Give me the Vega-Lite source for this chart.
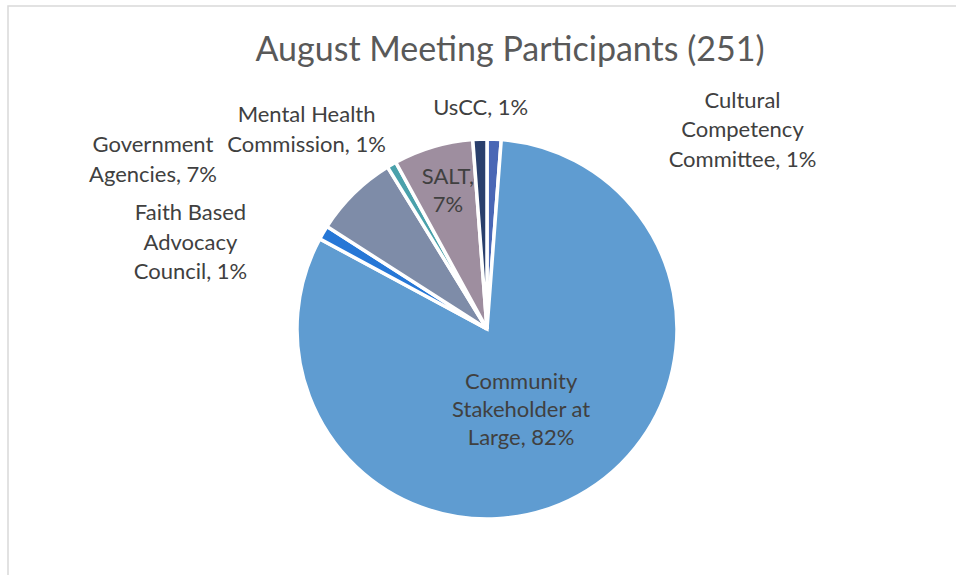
{
  "$schema": "https://vega.github.io/schema/vega-lite/v6.json",
  "autosize": "none",
  "padding": {"left": 8, "top": 6, "right": 0, "bottom": 0},
  "width": 958,
  "height": 646,
  "background": "white",
  "config": {
    "view": {"stroke": null},
    "font": "Lato"
  },
  "title": {
    "text": "August Meeting Participants (251)",
    "orient": "top",
    "anchor": "middle",
    "offset": -63,
    "dx": 23,
    "font": "Lato",
    "fontSize": 34,
    "fontWeight": "normal",
    "color": "#595959"
  },
  "data": {
    "values": [
      {"category": "Cultural Competency Committee", "count": 3, "rank": 1},
      {"category": "Community Stakeholder at Large", "count": 205, "rank": 2},
      {"category": "Faith Based Advocacy Council", "count": 3, "rank": 3},
      {"category": "Government Agencies", "count": 18, "rank": 4},
      {"category": "Mental Health Commission", "count": 2, "rank": 5},
      {"category": "SALT", "count": 17, "rank": 6},
      {"category": "UsCC", "count": 3, "rank": 7}
    ]
  },
  "transform": [
    {"joinaggregate": [{"op": "sum", "field": "count", "as": "total"}]},
    {"calculate": "format(datum.count / datum.total, '.0%')", "as": "pct"},
    {"calculate": "datum.category === 'Cultural Competency Committee' ? ['Cultural', 'Competency', 'Committee, ' + datum.pct] : datum.category === 'Community Stakeholder at Large' ? ['Community', 'Stakeholder at', 'Large, ' + datum.pct] : datum.category === 'Faith Based Advocacy Council' ? ['Faith Based', 'Advocacy', 'Council, ' + datum.pct] : datum.category === 'Government Agencies' ? ['Government', 'Agencies, ' + datum.pct] : datum.category === 'Mental Health Commission' ? ['Mental Health', 'Commission, ' + datum.pct] : datum.category === 'SALT' ? ['SALT,', datum.pct] : [datum.category + ', ' + datum.pct]", "as": "lbl"}
  ],
  "encoding": {
    "theta": {"field": "count", "type": "quantitative", "stack": true},
    "order": {"field": "rank", "type": "quantitative"}
  },
  "layer": [
    {
      "data": {"values": [{"frame": 1}]},
      "transform": [],
      "mark": {"type": "rect", "fill": "transparent", "stroke": "#d9d9d9", "strokeWidth": 1.5},
      "encoding": {"theta": null, "order": null}
    },
    {
      "mark": {"type": "arc", "outerRadius": 190, "stroke": "white", "strokeWidth": 3.5},
      "encoding": {
        "color": {
          "field": "category",
          "type": "nominal",
          "legend": null,
          "scale": {
            "domain": ["Cultural Competency Committee", "Community Stakeholder at Large", "Faith Based Advocacy Council", "Government Agencies", "Mental Health Commission", "SALT", "UsCC"],
            "range": ["#4A67B5", "#5F9CD1", "#2677D6", "#7E8CA8", "#4AA1AB", "#9E8E9F", "#2A3F6C"]
          }
        }
      }
    },
    {
      "mark": {"type": "text", "radius": 199, "dx": 248, "dy": -29.5, "fontSize": 22, "lineHeight": 29.5, "color": "#404040", "align": "center", "baseline": "middle"},
      "encoding": {
        "detail": {"field": "category"},
        "text": {"condition": {"test": "datum.category === 'Cultural Competency Committee'", "field": "lbl"}, "value": ""}
      }
    },
    {
      "mark": {"type": "text", "radius": 221, "dx": 2, "dy": 0, "fontSize": 22, "lineHeight": 29.5, "color": "#404040", "align": "center", "baseline": "middle"},
      "encoding": {
        "detail": {"field": "category"},
        "text": {"condition": {"test": "datum.category === 'UsCC'", "field": "lbl"}, "value": ""}
      }
    },
    {
      "mark": {"type": "text", "radius": 145, "dx": 2, "dy": -13, "fontSize": 22, "lineHeight": 28, "color": "#404040", "align": "center", "baseline": "middle"},
      "encoding": {
        "detail": {"field": "category"},
        "text": {"condition": {"test": "datum.category === 'SALT'", "field": "lbl"}, "value": ""}
      }
    },
    {
      "mark": {"type": "text", "radius": 230, "dx": -65, "dy": -15, "fontSize": 22, "lineHeight": 30, "color": "#404040", "align": "center", "baseline": "middle"},
      "encoding": {
        "detail": {"field": "category"},
        "text": {"condition": {"test": "datum.category === 'Mental Health Commission'", "field": "lbl"}, "value": ""}
      }
    },
    {
      "mark": {"type": "text", "radius": 237, "dx": -168, "dy": -15, "fontSize": 22, "lineHeight": 30, "color": "#404040", "align": "center", "baseline": "middle"},
      "encoding": {
        "detail": {"field": "category"},
        "text": {"condition": {"test": "datum.category === 'Government Agencies'", "field": "lbl"}, "value": ""}
      }
    },
    {
      "mark": {"type": "text", "radius": 170, "dx": -150, "dy": -29.5, "fontSize": 22, "lineHeight": 29.5, "color": "#404040", "align": "center", "baseline": "middle"},
      "encoding": {
        "detail": {"field": "category"},
        "text": {"condition": {"test": "datum.category === 'Faith Based Advocacy Council'", "field": "lbl"}, "value": ""}
      }
    },
    {
      "mark": {"type": "text", "radius": 92, "dx": -10, "dy": -28, "fontSize": 22, "lineHeight": 28, "color": "#404040", "align": "center", "baseline": "middle"},
      "encoding": {
        "detail": {"field": "category"},
        "text": {"condition": {"test": "datum.category === 'Community Stakeholder at Large'", "field": "lbl"}, "value": ""}
      }
    }
  ]
}
